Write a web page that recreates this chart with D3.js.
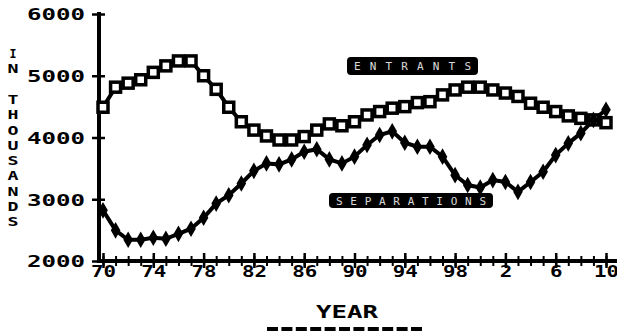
<!DOCTYPE html>
<html><head><meta charset="utf-8">
<script src="https://cdn.jsdelivr.net/npm/d3@7"></script>
<style>body{margin:0;background:#fff}svg{display:block}</style>
</head><body>
<svg id="c" width="617" height="332"></svg>
<script>
const years = [1970,1971,1972,1973,1974,1975,1976,1977,1978,1979,1980,1981,1982,1983,1984,1985,1986,1987,1988,1989,1990,1991,1992,1993,1994,1995,1996,1997,1998,1999,2000,2001,2002,2003,2004,2005,2006,2007,2008,2009,2010];
const entrants = [4490,4815,4880,4935,5055,5160,5240,5240,5000,4780,4490,4255,4120,4025,3960,3960,4015,4120,4220,4190,4255,4365,4420,4475,4500,4565,4580,4690,4770,4815,4815,4770,4720,4665,4555,4490,4420,4350,4310,4285,4240];
const separations = [2821,2496,2344,2344,2377,2360,2440,2523,2700,2930,3065,3255,3460,3580,3565,3645,3770,3810,3645,3580,3690,3880,4040,4100,3915,3850,3850,3690,3390,3230,3190,3310,3280,3120,3280,3445,3715,3905,4070,4285,4450];
const xTickYears = [1970,1974,1978,1982,1986,1990,1994,1998,2002,2006,2010];
const xTickLabels = ["70","74","78","82","86","90","94","98","2","6","10"];
const yTickValues = [2000,3000,4000,5000,6000];
const yTickLabels = ["2000","3000","4000","5000","6000"];
const seriesLabels = ["ENTRANTS","SEPARATIONS"];
const yTitle = "IN THOUSANDS";
const xTitle = "YEAR";

const FONT = "'DejaVu Sans Mono', monospace";
const svg = d3.select("#c");
const x = d3.scaleLinear().domain([1970,2010]).range([103,606]);
const y = d3.scaleLinear().domain([2000,6000]).range([261,14]);
const axisX = 99, axisY = 261;

// y axis
const gy = svg.append("g").attr("transform",`translate(${axisX},0)`)
  .call(d3.axisLeft(y).tickValues(yTickValues).tickFormat((d,i)=>yTickLabels[i]).tickSizeOuter(0).tickSize(0));
gy.select(".domain").remove();
gy.selectAll(".tick line").attr("x1",-7).attr("x2",6).attr("stroke","#000").attr("stroke-width",2.5);
gy.selectAll(".tick text").attr("x",-14).attr("dy","0.36em").attr("text-anchor","end")
  .attr("font-family",FONT).attr("font-weight","bold").attr("font-size",16)
  .attr("textLength",58).attr("lengthAdjust","spacingAndGlyphs").attr("fill","#000");
svg.append("line").attr("x1",axisX).attr("x2",axisX).attr("y1",y(6000)-2).attr("y2",axisY+2)
  .attr("stroke","#000").attr("stroke-width",4);

// x axis minor ticks
const gxm = svg.append("g").attr("transform",`translate(0,${axisY})`)
  .call(d3.axisBottom(x).tickValues(years).tickFormat("").tickSizeOuter(0));
gxm.select(".domain").remove();
gxm.selectAll(".tick line").attr("y1",-5).attr("y2",5).attr("stroke","#000").attr("stroke-width",2);
// x axis major ticks + labels
const gx = svg.append("g").attr("transform",`translate(0,${axisY})`)
  .call(d3.axisBottom(x).tickValues(xTickYears).tickFormat((d,i)=>xTickLabels[i]).tickSizeOuter(0));
gx.select(".domain").remove();
gx.selectAll(".tick line").attr("y1",-8).attr("y2",7).attr("stroke","#000").attr("stroke-width",2.5);
gx.selectAll(".tick text").attr("y",16).attr("dy",0)
  .attr("font-family",FONT).attr("font-weight","bold").attr("font-size",16)
  .attr("fill","#000")
  .each(function(d,i){ d3.select(this).attr("textLength",xTickLabels[i].length*12.5).attr("lengthAdjust","spacingAndGlyphs"); });
svg.append("line").attr("x1",axisX-2).attr("x2",617).attr("y1",axisY).attr("y2",axisY)
  .attr("stroke","#000").attr("stroke-width",4);

// lines
const line = d3.line().x((d,i)=>x(years[i])).y(d=>y(d));
svg.append("path").datum(entrants).attr("d",line).attr("fill","none").attr("stroke","#000").attr("stroke-width",4);
svg.append("path").datum(separations).attr("d",line).attr("fill","none").attr("stroke","#000").attr("stroke-width",4);

// markers
svg.append("g").selectAll("rect").data(entrants).join("rect")
  .attr("x",(d,i)=>x(years[i])-5).attr("y",d=>y(d)-5).attr("width",10).attr("height",10)
  .attr("fill","#fff").attr("stroke","#000").attr("stroke-width",3.5);
svg.append("g").selectAll("path").data(separations).join("path")
  .attr("d",d3.symbol(d3.symbolDiamond,80))
  .attr("transform",(d,i)=>`translate(${x(years[i])},${y(d)})`).attr("fill","#000");

// series label boxes
const boxes = [{x:347,y:57,w:131,h:18},{x:329,y:193,w:164,h:15}];
boxes.forEach((b,i)=>{
  svg.append("rect").attr("x",b.x).attr("y",b.y).attr("width",b.w).attr("height",b.h).attr("rx",4).attr("fill","#000");
  svg.append("text").attr("x",b.x+7).attr("y",b.y+b.h/2+4).attr("font-family",FONT).attr("font-size",11)
    .attr("fill","#fff").attr("opacity",0.85)
    .attr("textLength",b.w-14).attr("lengthAdjust","spacing").text(seriesLabels[i]);
});

// y title stacked letters
yTitle.split("").forEach((ch,i)=>{
  if(ch===" ") return;
  svg.append("text").attr("x",7.5).attr("y",58+i*15.3)
    .attr("font-family",FONT).attr("font-weight","bold").attr("font-size",13).attr("fill","#000")
    .attr("textLength",ch==="I"?7:11).attr("lengthAdjust","spacingAndGlyphs")
    .attr("dx",ch==="I"?2:0).text(ch);
});

// x title + underline
svg.append("text").attr("x",347).attr("y",318).attr("text-anchor","middle")
  .attr("font-family",FONT).attr("font-weight","bold").attr("font-size",18)
  .attr("textLength",62).attr("lengthAdjust","spacingAndGlyphs").attr("fill","#000").text(xTitle);
svg.append("line").attr("x1",267).attr("x2",425).attr("y1",329).attr("y2",329)
  .attr("stroke","#000").attr("stroke-width",4).attr("stroke-dasharray","11,3.4");
</script>
</body></html>
